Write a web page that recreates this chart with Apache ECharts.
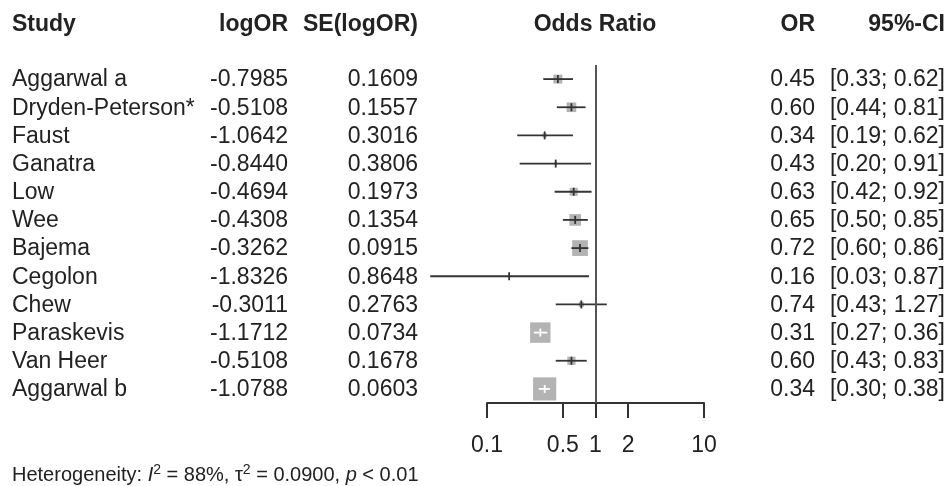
<!DOCTYPE html>
<html>
<head>
<meta charset="utf-8">
<script src="https://cdn.jsdelivr.net/npm/echarts@6/dist/echarts.min.js"></script>
<style>
  html, body { margin: 0; padding: 0; background: #fff; }
  #chart { width: 951px; height: 486px; }
</style>
</head>
<body>
<div id="chart"></div>
<script>
const studies = ['Aggarwal a', 'Dryden-Peterson*', 'Faust', 'Ganatra', 'Low', 'Wee',
  'Bajema', 'Cegolon', 'Chew', 'Paraskevis', 'Van Heer', 'Aggarwal b'];
const logOR = [-0.7985, -0.5108, -1.0642, -0.8440, -0.4694, -0.4308,
  -0.3262, -1.8326, -0.3011, -1.1712, -0.5108, -1.0788];
const seLogOR = [0.1609, 0.1557, 0.3016, 0.3806, 0.1973, 0.1354,
  0.0915, 0.8648, 0.2763, 0.0734, 0.1678, 0.0603];
const oddsRatio = [0.45, 0.60, 0.34, 0.43, 0.63, 0.65, 0.72, 0.16, 0.74, 0.31, 0.60, 0.34];
const ciLower = [0.33, 0.44, 0.19, 0.20, 0.42, 0.50, 0.60, 0.03, 0.43, 0.27, 0.43, 0.30];
const ciUpper = [0.62, 0.81, 0.62, 0.91, 0.92, 0.85, 0.86, 0.87, 1.27, 0.36, 0.83, 0.38];
// weights (%) estimated from the square sizes
const weight = [5.0, 5.8, 1.1, 0.6, 4.0, 8.5, 15.5, 0.15, 1.6, 26.0, 4.2, 33.5];
const tickValues = [0.1, 0.5, 1, 2, 10];

const FONT = '"Liberation Sans", Arial, sans-serif';
const TXT = '#222';

const rows = studies.map((s, i) => [oddsRatio[i], i, ciLower[i], ciUpper[i], weight[i]]);

function txt(x, y, text, align, bold) {
  return {
    type: 'text',
    style: {
      x: x, y: y, text: text, align: align, verticalAlign: 'middle',
      font: (bold ? 'bold ' : '') + '23px ' + FONT, fill: TXT
    }
  };
}

function renderRow(params, api) {
  const i = params.dataIndex;
  const c = api.coord([api.value(0), i]);
  const lo = api.coord([api.value(2), i]);
  const hi = api.coord([api.value(3), i]);
  const side = 4 * Math.sqrt(api.value(4));
  const inside = lo[0] >= c[0] - side / 2 && hi[0] <= c[0] + side / 2;
  const lineColor = inside ? '#fff' : '#333';
  const y = c[1];
  return {
    type: 'group',
    children: [
      { type: 'rect', shape: { x: c[0] - side / 2, y: y - side / 2, width: side, height: side },
        style: { fill: '#b3b3b3' } },
      { type: 'line', shape: { x1: lo[0], y1: y, x2: hi[0], y2: y },
        style: { stroke: lineColor, lineWidth: 1.8 } },
      { type: 'line', shape: { x1: c[0], y1: y - 4, x2: c[0], y2: y + 4 },
        style: { stroke: lineColor, lineWidth: 1.8 } },
      txt(12, y + 1, studies[i], 'left'),
      txt(288, y + 1, logOR[i].toFixed(4), 'right'),
      txt(418, y + 1, seLogOR[i].toFixed(4), 'right'),
      txt(815, y + 1, oddsRatio[i].toFixed(2), 'right'),
      txt(945, y + 1, '[' + ciLower[i].toFixed(2) + '; ' + ciUpper[i].toFixed(2) + ']', 'right')
    ]
  };
}

const chart = echarts.init(document.getElementById('chart'));
chart.setOption({
  animation: false,
  grid: { left: 487, right: 247, top: 65, bottom: 83 },
  xAxis: {
    type: 'log', logBase: 10, min: 0.1, max: 10,
    splitLine: { show: false },
    axisLine: { show: true, lineStyle: { color: '#333', width: 2 } },
    axisTick: { show: true, customValues: tickValues, length: 15, lineStyle: { color: '#333', width: 2 } },
    axisLabel: {
      customValues: tickValues, margin: 31, color: TXT, fontSize: 23, fontFamily: FONT,
      formatter: v => String(+v.toPrecision(3))
    }
  },
  yAxis: {
    type: 'category', data: studies, inverse: true,
    axisLine: { show: false }, axisTick: { show: false }, axisLabel: { show: false },
    splitLine: { show: false }
  },
  graphic: [
    txt(12, 25, 'Study', 'left', true),
    txt(288, 25, 'logOR', 'right', true),
    txt(418, 25, 'SE(logOR)', 'right', true),
    txt(595, 25, 'Odds Ratio', 'center', true),
    txt(815, 25, 'OR', 'right', true),
    txt(945, 25, '95%-CI', 'right', true),
    {
      type: 'text',
      style: {
        x: 12, y: 475, verticalAlign: 'middle', align: 'left',
        text: '{n|Heterogeneity: }{i|I}{s|2}{n| = 88%, τ}{s|2}{n| = 0.0900, }{i|p}{n| < 0.01}',
        fill: TXT, font: '20px ' + FONT,
        rich: {
          n: { fontSize: 20, fontFamily: FONT, fill: TXT },
          i: { fontSize: 20, fontFamily: FONT, fontStyle: 'italic', fill: TXT },
          s: { fontSize: 14, fontFamily: FONT, fill: TXT, padding: [0, 0, 10, 0] }
        }
      }
    }
  ],
  series: [{
    type: 'custom',
    renderItem: renderRow,
    encode: { x: 0, y: 1 },
    data: rows,
    markLine: {
      silent: true, symbol: 'none', label: { show: false },
      lineStyle: { color: '#555', width: 2, type: 'solid' },
      data: [{ xAxis: 1 }]
    }
  }]
});
</script>
</body>
</html>
